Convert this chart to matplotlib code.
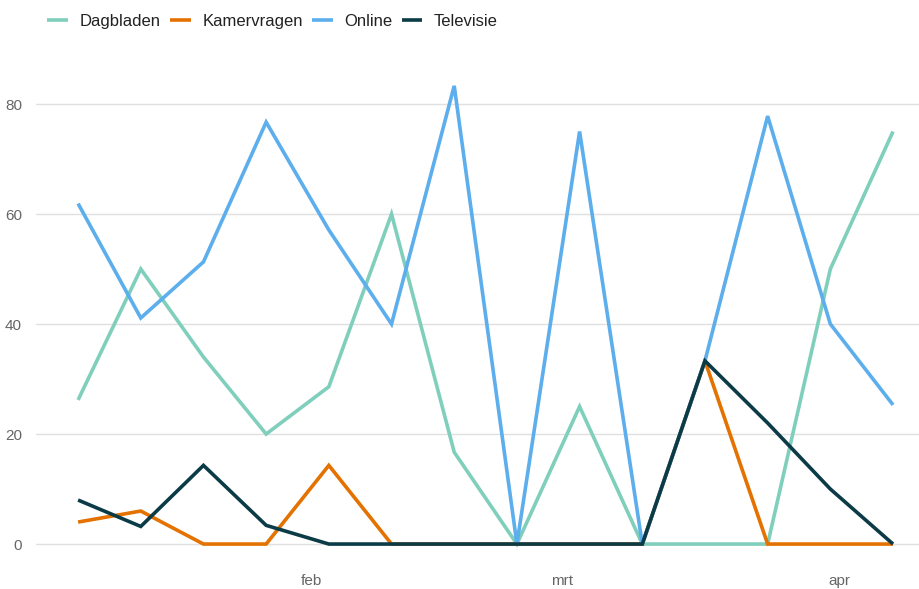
import matplotlib
matplotlib.use("Agg")
import matplotlib.pyplot as plt
import matplotlib.dates as mdates
import numpy as np
import datetime as dt

plt.rcParams['font.family'] = ['Liberation Sans', 'DejaVu Sans']

dates = ["2019-01-06", "2019-01-13", "2019-01-20", "2019-01-27", "2019-02-03",
         "2019-02-10", "2019-02-17", "2019-02-24", "2019-03-03", "2019-03-10",
         "2019-03-17", "2019-03-24", "2019-03-31", "2019-04-07"]
dagbladen = [26.2, 50, 34, 20, 28.6, 60, 16.7, 0, 25, 0, 0, 0, 50, 75]
kamervragen = [4, 6, 0, 0, 14.3, 0, 0, 0, 0, 0, 33.3, 0, 0, 0]
online = [61.9, 41.1, 51.3, 76.7, 57.1, 40, 83.3, 0, 75, 0, 33.3, 77.8, 40, 25.3]
televisie = [8, 3.2, 14.3, 3.4, 0, 0, 0, 0, 0, 0, 33.3, 22, 10, 0]
month_ticks = ["2019-02-01", "2019-03-01", "2019-04-01"]
month_labels = ["feb", "mrt", "apr"]

series = [("Dagbladen", dagbladen, "#80cfbc"),
          ("Kamervragen", kamervragen, "#e47200"),
          ("Online", online, "#5caeec"),
          ("Televisie", televisie, "#0b3b47")]

x = [dt.datetime.strptime(d, "%Y-%m-%d") for d in dates]

fig = plt.figure(figsize=(9.19, 5.89), dpi=100)
ax = fig.add_axes([36/919, 1 - 560/589, 1 - 36/919, 500/589])

for name, vals, col in series:
    ax.plot(x, vals, color=col, lw=2.6, label=name, solid_joinstyle='miter', solid_capstyle='butt')

x0 = mdates.date2num(x[0]); x1 = mdates.date2num(x[-1])
ax.set_xlim(x0 - 4.7, x1 + 2.9)
ax.set_ylim(-2.9, 88)
ax.set_yticks([0, 20, 40, 60, 80])
ax.set_xticks([mdates.date2num(dt.datetime.strptime(d, "%Y-%m-%d")) for d in month_ticks])
ax.set_xticklabels(month_labels)
ax.grid(axis='y', color='#e0e0e0', lw=1)
ax.set_axisbelow(True)
for s in ax.spines.values():
    s.set_visible(False)
ax.tick_params(axis='both', length=0, colors='#666666', labelsize=11)
ax.tick_params(axis='y', pad=10)
ax.tick_params(axis='x', pad=10)

leg = fig.legend(loc='upper left', bbox_to_anchor=(47/919, 1 - 14/589), ncol=4, frameon=False,
                 fontsize=12, handlelength=1.25, handletextpad=0.7, columnspacing=0.55,
                 borderpad=0, borderaxespad=0)
for t in leg.get_texts():
    t.set_color('#222222')

fig.savefig("out.png", dpi=100)
